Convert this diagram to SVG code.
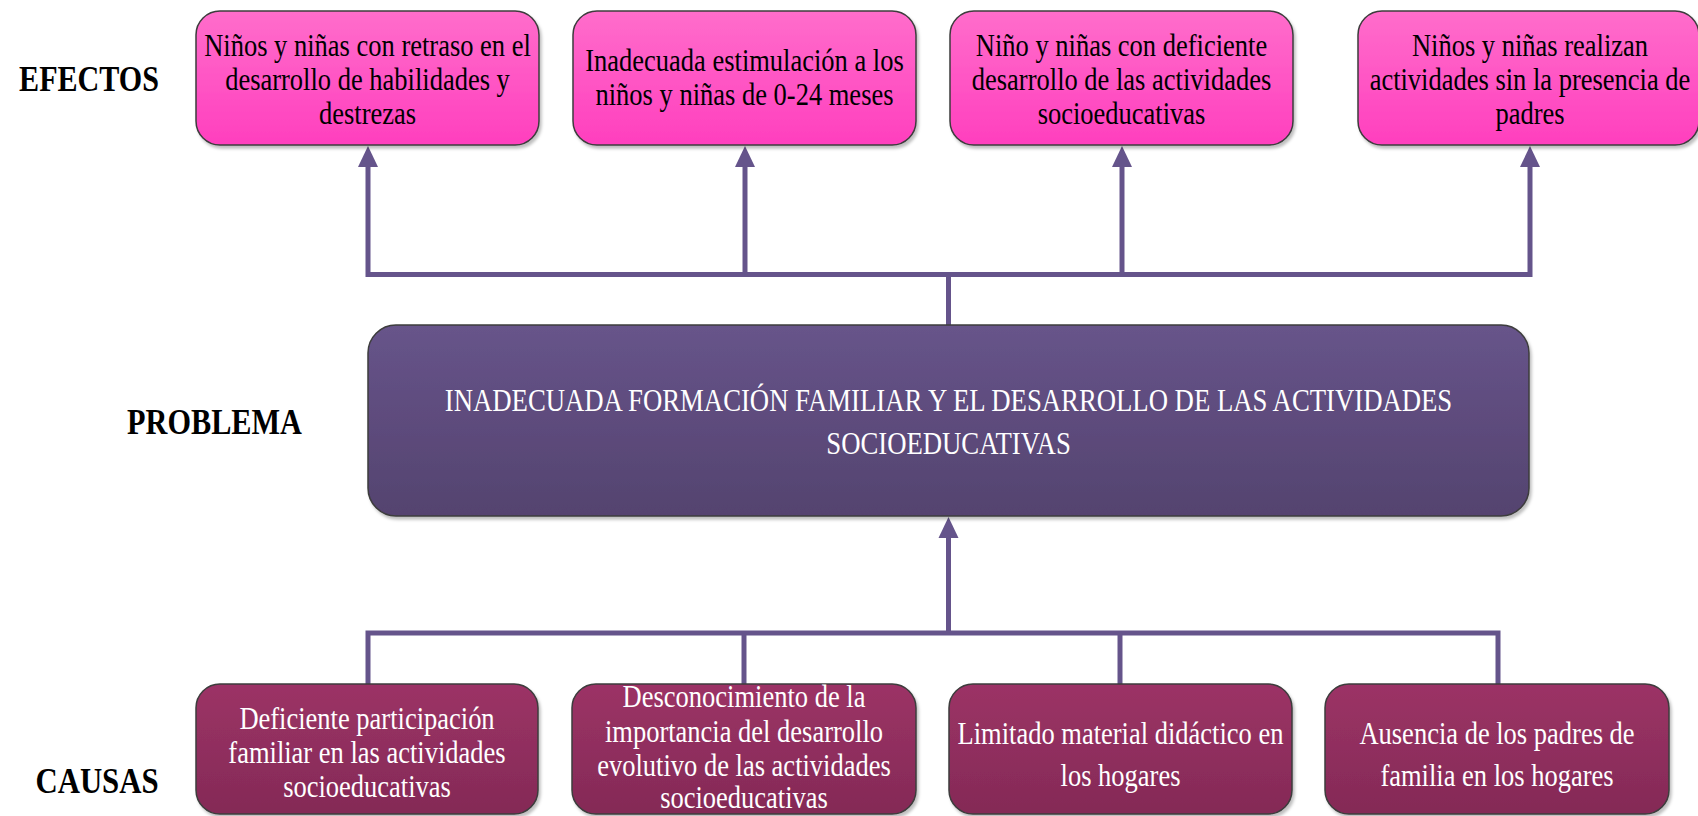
<svg xmlns="http://www.w3.org/2000/svg" width="1698" height="816" viewBox="0 0 1698 816">
<defs>
<linearGradient id="gTop" x1="0" y1="0" x2="0" y2="1"><stop offset="0" stop-color="#ff6dcb"/><stop offset="1" stop-color="#ff3fbe"/></linearGradient>
<linearGradient id="gMid" x1="0" y1="0" x2="0" y2="1"><stop offset="0" stop-color="#67548a"/><stop offset="1" stop-color="#54436f"/></linearGradient>
<linearGradient id="gBot" x1="0" y1="0" x2="0" y2="1"><stop offset="0" stop-color="#9c3366"/><stop offset="1" stop-color="#842a56"/></linearGradient>
<filter id="sh" x="-5%" y="-5%" width="110%" height="115%"><feDropShadow dx="2" dy="3" stdDeviation="1.5" flood-color="#000" flood-opacity="0.25"/></filter>
</defs>
<style>
.box{stroke:#3c3c3c;stroke-width:1.5;filter:url(#sh)}
.top{fill:url(#gTop)}
.mid{fill:url(#gMid)}
.bot{fill:url(#gBot)}
.t{font-family:"Liberation Serif","Times New Roman",serif;font-size:31px;text-anchor:middle}
.dark{fill:#000}
.light{fill:#fff}
.lbl{font-family:"Liberation Serif","Times New Roman",serif;font-size:35px;font-weight:bold;text-anchor:middle;fill:#000}
.con{fill:none;stroke:#65548b;stroke-width:5;stroke-linejoin:miter}
.head{fill:#65548b}
</style>
<g id="connectors">
<path class="con" d="M368,167 V274.5 H1530 V167"/>
<path class="con" d="M745,167 V274.5"/>
<path class="con" d="M1122,167 V274.5"/>
<path class="con" d="M948.5,274.5 V325"/>
<path class="head" d="M358,167 L368,146 L378,167 Z"/>
<path class="head" d="M735,167 L745,146 L755,167 Z"/>
<path class="head" d="M1112,167 L1122,146 L1132,167 Z"/>
<path class="head" d="M1520,167 L1530,146 L1540,167 Z"/>
<path class="con" d="M368,684 V633 H1498 V684"/>
<path class="con" d="M744,684 V633"/>
<path class="con" d="M1120,684 V633"/>
<path class="con" d="M948.5,633 V537"/>
<path class="head" d="M938.5,538 L948.5,517 L958.5,538 Z"/>
</g>
<g id="label-efectos"><text class="lbl" transform="translate(89 0) scale(0.86 1)" x="0" y="91">EFECTOS</text></g>
<g id="label-problema"><text class="lbl" transform="translate(214.5 0) scale(0.865 1)" x="0" y="434">PROBLEMA</text></g>
<g id="label-causas"><text class="lbl" transform="translate(97 0) scale(0.88 1)" x="0" y="793">CAUSAS</text></g>
<g id="efecto1">
<rect class="box top" x="196" y="11" width="343" height="134" rx="24"/>
<text class="t dark" transform="translate(367.5 0) scale(0.855 1)"><tspan x="0" y="56">Niños y niñas con retraso en el</tspan><tspan x="0" y="90">desarrollo de habilidades y</tspan><tspan x="0" y="124">destrezas</tspan></text>
</g>
<g id="efecto2">
<rect class="box top" x="573" y="11" width="343" height="134" rx="24"/>
<text class="t dark" transform="translate(744.5 0) scale(0.855 1)"><tspan x="0" y="71">Inadecuada estimulación a los</tspan><tspan x="0" y="105">niños y niñas de 0-24 meses</tspan></text>
</g>
<g id="efecto3">
<rect class="box top" x="950" y="11" width="343" height="134" rx="24"/>
<text class="t dark" transform="translate(1121.5 0) scale(0.855 1)"><tspan x="0" y="56">Niño y niñas con deficiente</tspan><tspan x="0" y="90">desarrollo de las actividades</tspan><tspan x="0" y="124">socioeducativas</tspan></text>
</g>
<g id="efecto4">
<rect class="box top" x="1358" y="11" width="341" height="134" rx="24"/>
<text class="t dark" transform="translate(1530 0) scale(0.855 1)"><tspan x="0" y="56">Niños y niñas realizan</tspan><tspan x="0" y="90">actividades sin la presencia de</tspan><tspan x="0" y="124">padres</tspan></text>
</g>
<g id="problema">
<rect class="box mid" x="368" y="325" width="1161" height="191" rx="28"/>
<text class="t light" transform="translate(948.5 0) scale(0.862 1)"><tspan x="0" y="411">INADECUADA FORMACIÓN FAMILIAR Y EL DESARROLLO DE LAS ACTIVIDADES</tspan><tspan x="0" y="454">SOCIOEDUCATIVAS</tspan></text>
</g>
<g id="causa1">
<rect class="box bot" x="196" y="684" width="342" height="130" rx="24"/>
<text class="t light" transform="translate(367 0) scale(0.855 1)"><tspan x="0" y="729">Deficiente participación</tspan><tspan x="0" y="763">familiar en las actividades</tspan><tspan x="0" y="797">socioeducativas</tspan></text>
</g>
<g id="causa2">
<rect class="box bot" x="572" y="684" width="344" height="130" rx="24"/>
<text class="t light" transform="translate(744 0) scale(0.855 1)"><tspan x="0" y="707">Desconocimiento de la</tspan><tspan x="0" y="742">importancia del desarrollo</tspan><tspan x="0" y="776">evolutivo de las actividades</tspan><tspan x="0" y="808">socioeducativas</tspan></text>
</g>
<g id="causa3">
<rect class="box bot" x="949" y="684" width="343" height="130" rx="24"/>
<text class="t light" transform="translate(1120.5 0) scale(0.855 1)"><tspan x="0" y="744">Limitado material didáctico en</tspan><tspan x="0" y="786">los hogares</tspan></text>
</g>
<g id="causa4">
<rect class="box bot" x="1325" y="684" width="344" height="130" rx="24"/>
<text class="t light" transform="translate(1497 0) scale(0.855 1)"><tspan x="0" y="744">Ausencia de los padres de</tspan><tspan x="0" y="786">familia en los hogares</tspan></text>
</g>
</svg>
